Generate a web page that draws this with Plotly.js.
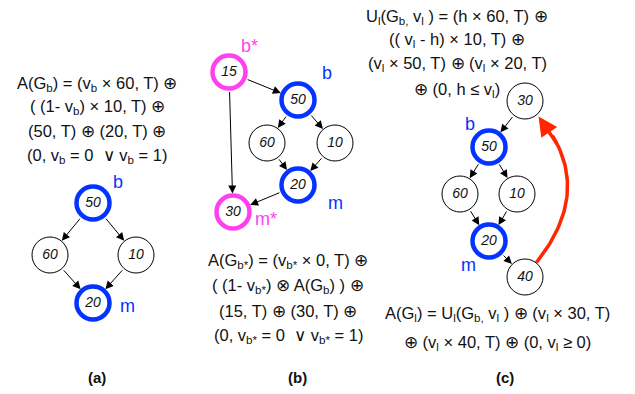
<!DOCTYPE html>
<html><head><meta charset="utf-8">
<script src="https://cdn.plot.ly/plotly-3.0.1.min.js"></script>
<style>html,body{margin:0;padding:0;background:#fff}#c{width:635px;height:394px}</style>
</head><body><div id="c"></div>
<script>
// ---------- data ----------
const valuesA = [50, 60, 10, 20];
const valuesB = [15, 50, 60, 10, 20, 30];
const valuesC = [30, 50, 60, 10, 20, 40];
const edgesA = [[0,1],[0,2],[1,3],[2,3]];
const edgesB = [[0,1],[0,5],[1,2],[1,3],[2,4],[3,4],[4,5]];
const edgesC = [[0,1],[1,2],[1,3],[2,4],[3,4],[4,5]];
const backEdgeC = [5, 0];
const kindA = ['b','n','n','b'];
const kindB = ['m','b','n','n','b','m'];
const kindC = ['n','b','n','n','b','n'];
const formulaA = [
  'A(G<sub>b</sub>) = (v<sub>b</sub> × 60, T) ⊕',
  '( (1- v<sub>b</sub>) × 10, T) ⊕',
  '(50, T) ⊕ (20, T) ⊕',
  '(0, v<sub>b</sub> = 0  ∨ v<sub>b</sub> = 1)'
];
const formulaB = [
  'A(G<sub>b*</sub>) = (v<sub>b*</sub> × 0, T) ⊕',
  '( (1- v<sub>b*</sub>) ⊗ A(G<sub>b</sub>) ) ⊕',
  '(15, T) ⊕ (30, T) ⊕',
  '(0, v<sub>b*</sub> = 0  ∨ v<sub>b*</sub> = 1)'
];
const formulaCtop = [
  'U<sub>l</sub>(G<sub>b,</sub> v<sub>l</sub> ) = (h × 60, T) ⊕',
  '(( v<sub>l</sub> - h) × 10, T) ⊕',
  '(v<sub>l</sub> × 50, T) ⊕ (v<sub>l</sub> × 20, T)',
  '⊕ (0, h ≤ v<sub>l</sub>)'
];
const formulaCbottom = [
  'A(G<sub>l</sub>) = U<sub>l</sub>(G<sub>b,</sub> v<sub>l</sub> ) ⊕ (v<sub>l</sub> × 30, T)',
  '⊕ (v<sub>l</sub> × 40, T) ⊕ (0, v<sub>l</sub> ≥ 0)'
];
const panelLabels = ['(a)', '(b)', '(c)'];
const tagTexts = ['b', 'm', 'b*', 'm*'];

// ---------- layout / style ----------
const BLUE = '#0433FF', MAG = '#FF40F0', RED = '#FF2600';
const FONT = 'Liberation Sans, Arial, Helvetica, sans-serif';
const posA = [[93,203],[50,255],[136,255],[93,303]];
const posB = [[229,72],[298,100],[267,143],[335,143],[298,185],[233,212]];
const posC = [[525,101],[489,147],[460,194],[517,194],[489,241],[525,277]];
const R = 18.5;

const traces = [];
const annotations = [];

function styleOf(k){
  if (k === 'b') return {size: 33, color: BLUE, width: 4.5};
  if (k === 'm') return {size: 33, color: MAG, width: 4.5};
  return {size: 36, color: '#000', width: 1};
}

function addGraph(vals, kinds, pos, edges){
  edges.forEach(([s,t]) => {
    annotations.push({
      x: pos[t][0], y: pos[t][1], ax: pos[s][0], ay: pos[s][1],
      xref:'x', yref:'y', axref:'x', ayref:'y', text:'', showarrow:true,
      arrowhead:2, arrowsize:1.6, arrowwidth:1, arrowcolor:'#000',
      standoff:R, startstandoff:R
    });
  });
  traces.push({
    type:'scatter', mode:'markers+text', opacity:1,
    x: pos.map(p=>p[0]), y: pos.map(p=>p[1]),
    text: vals.map(v=>'<i>'+v+'</i>'),
    textposition:'middle center',
    textfont:{family:FONT, size:14, color:'#111'},
    marker:{symbol:'circle', color:'#fff', opacity:1,
      size: kinds.map(k=>styleOf(k).size),
      line:{color: kinds.map(k=>styleOf(k).color), width: kinds.map(k=>styleOf(k).width)}},
    hoverinfo:'skip', cliponaxis:false
  });
}
addGraph(valuesA, kindA, posA, edgesA);
addGraph(valuesB, kindB, posB, edgesB);
addGraph(valuesC, kindC, posC, edgesC);

// red back edge (curved) in panel c
(function(){
  const s = posC[backEdgeC[0]], t = posC[backEdgeC[1]];
  const u1 = [0.62,-0.78], u2 = [0.66,0.75];
  const P0 = [s[0]+R*u1[0], s[1]+R*u1[1]];
  const P2 = [t[0]+(R+2)*u2[0], t[1]+(R+2)*u2[1]];
  const mid = [(P0[0]+P2[0])/2, (P0[1]+P2[1])/2];
  const C = [mid[0]+60, mid[1]-4];
  const bez = tt => [(1-tt)*(1-tt)*P0[0]+2*(1-tt)*tt*C[0]+tt*tt*P2[0],
                     (1-tt)*(1-tt)*P0[1]+2*(1-tt)*tt*C[1]+tt*tt*P2[1]];
  const xs=[], ys=[];
  for (let i=0;i<=40;i++){ const p=bez(i/40*0.86); xs.push(p[0]); ys.push(p[1]); }
  traces.unshift({type:'scatter', mode:'lines', x:xs, y:ys,
    line:{color:RED, width:3.5}, hoverinfo:'skip'});
  const q = bez(0.8);
  annotations.push({x:P2[0], y:P2[1], ax:q[0], ay:q[1], xref:'x', yref:'y', axref:'x', ayref:'y',
    text:'', showarrow:true, arrowhead:2, arrowsize:1.1, arrowwidth:3.5, arrowcolor:RED, standoff:0});
})();

function addLines(lines, x, ys, size){
  lines.forEach((l,i)=>annotations.push({x:x, y:ys[i], xref:'x', yref:'y', text:l, showarrow:false,
    xanchor:'center', yanchor:'middle', font:{family:FONT, size:size, color:'#111'}}));
}
addLines(formulaA, 97, [84,107,131,156], 16.5);
addLines(formulaB, 288, [261,286,311,336], 16.5);
addLines(formulaCtop, 457, [17,40,64,90], 16.5);
addLines(formulaCbottom, 497, [314,343], 16.5);

const panelX = [97, 297, 505];
panelLabels.forEach((l,i)=>annotations.push({x:panelX[i], y:377, xref:'x', yref:'y', text:'<b>'+l+'</b>',
  showarrow:false, font:{family:FONT, size:15, color:'#111'}}));

function tag(text, x, y, color){
  annotations.push({x:x, y:y, xref:'x', yref:'y', text:text, showarrow:false,
    font:{family:FONT, size:18, color:color}});
}
tag(tagTexts[0], 118, 182, BLUE);
tag(tagTexts[1], 127, 306, BLUE);
tag(tagTexts[2], 249, 46, MAG);
tag(tagTexts[0], 327, 73, BLUE);
tag(tagTexts[1], 335, 203, BLUE);
tag(tagTexts[3], 266, 219, MAG);
tag(tagTexts[0], 470, 124, BLUE);
tag(tagTexts[1], 468, 265, BLUE);

const layout = {
  width:635, height:394, margin:{l:0,r:0,t:0,b:0},
  paper_bgcolor:'#fff', plot_bgcolor:'#fff', showlegend:false,
  xaxis:{range:[0,635], visible:false, fixedrange:true},
  yaxis:{range:[394,0], visible:false, fixedrange:true},
  annotations:annotations
};
Plotly.newPlot('c', traces, layout, {staticPlot:true, displayModeBar:false});
</script></body></html>
